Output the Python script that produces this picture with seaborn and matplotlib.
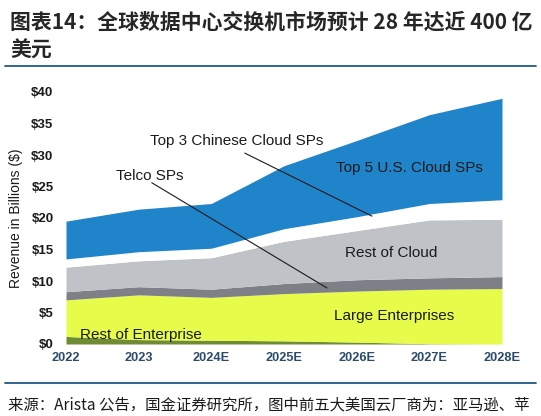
import matplotlib
matplotlib.use("Agg")
import matplotlib.pyplot as plt
import numpy as np
import pandas as pd
import seaborn as sns

sns.set_theme(style="white")
plt.rcParams["font.family"] = ["Liberation Sans", "Noto Sans CJK SC", "DejaVu Sans"]

# values (US$ billions, stacked from the bottom)
years = ["2022", "2023", "2024E", "2025E", "2026E", "2027E", "2028E"]
rest_of_enterprise = [1.2, 0.7, 0.6, 0.5, 0.3, 0.05, 0.0]
large_enterprises = [5.8, 7.1, 6.8, 7.5, 8.1, 8.65, 8.8]
telco_sps = [1.3, 1.3, 1.3, 1.6, 1.8, 1.8, 1.9]
rest_of_cloud = [3.9, 4.1, 5.0, 6.7, 7.8, 9.2, 9.1]
top3_chinese = [1.3, 1.45, 1.5, 2.0, 2.2, 2.6, 3.1]
top5_us = [6.0, 6.75, 7.1, 10.0, 12.1, 14.1, 16.1]
y_ticks = [0, 5, 10, 15, 20, 25, 30, 35, 40]

layers = pd.DataFrame({
    "Rest of Enterprise": rest_of_enterprise,
    "Large Enterprises": large_enterprises,
    "Telco SPs": telco_sps,
    "Rest of Cloud": rest_of_cloud,
    "Top 3 Chinese Cloud SPs": top3_chinese,
    "Top 5 U.S. Cloud SPs": top5_us,
}, index=years)

colors = {
    "Rest of Enterprise": "#6f8c35",
    "Large Enterprises": "#e7fb4b",
    "Telco SPs": "#7e8088",
    "Rest of Cloud": "#bfc2c7",
    "Top 3 Chinese Cloud SPs": "#ffffff",
    "Top 5 U.S. Cloud SPs": "#1f84c9",
}

W, H = 541, 416
fig = plt.figure(figsize=(W / 100, H / 100), dpi=100)
ax = fig.add_axes([66 / W, 1 - 344 / H, 436 / W, 252 / H])

x = np.arange(len(years))
tops = layers.cumsum(axis=1)
bottom = np.zeros(len(years))
for name in layers.columns:
    top = tops[name].to_numpy()
    ax.fill_between(x, bottom, top, color=colors[name], linewidth=0)
    bottom = top

ax.set_xlim(0, len(years) - 1)
ax.set_ylim(0, 40)
ax.set_xticks(x)
ax.set_xticklabels(years, fontsize=9.2, fontweight="bold", color="#2c4a6e")
ax.set_yticks(y_ticks)
ax.set_yticklabels([f"${v}" for v in y_ticks], fontsize=9.5, fontweight="bold", color="#1a1a1a")
ax.tick_params(axis="x", length=0, pad=6)
ax.tick_params(axis="y", length=0, pad=9)
for s in ax.spines.values():
    s.set_visible(False)
ax.set_ylabel("Revenue in Billions ($)", fontsize=10, color="#1a1a1a", labelpad=6)

# labels inside the chart
lab = dict(fontsize=11, color="#1a1a1a", ha="center", va="center")
ax.text(2.35, 32.3, "Top 3 Chinese Cloud SPs", **lab)
ax.text(1.15, 26.6, "Telco SPs", **lab)
ax.text(4.73, 27.9, "Top 5 U.S. Cloud SPs", **lab)
ax.text(4.47, 14.4, "Rest of Cloud", **lab)
ax.text(4.52, 4.45, "Large Enterprises", **lab)
ax.text(1.03, 1.45, "Rest of Enterprise", **lab)
ax.plot([2.46, 4.21], [30.3, 20.3], color="#1a1a1a", linewidth=0.8)
ax.plot([1.18, 3.59], [25.6, 8.9], color="#1a1a1a", linewidth=0.8)

# header / footer
cjk = ["Noto Sans CJK SC", "DejaVu Sans"]
fig.text(10 / W, 1 - 22 / H, "图表14：全球数据中心交换机市场预计 28 年达近 400 亿",
         fontsize=15, fontweight="bold", family=cjk, va="center", ha="left")
fig.text(10 / W, 1 - 50 / H, "美元", fontsize=15, fontweight="bold", family=cjk,
         va="center", ha="left")
fig.add_artist(plt.Line2D([5 / W, 536 / W], [1 - 66 / H, 1 - 66 / H],
                          transform=fig.transFigure, color="#1f5a85", linewidth=1.3))
fig.add_artist(plt.Line2D([5 / W, 536 / W], [1 - 383 / H, 1 - 383 / H],
                          transform=fig.transFigure, color="#1f5a85", linewidth=1.3))
fig.text(8 / W, 1 - 405 / H, "来源：Arista 公告，国金证券研究所，图中前五大美国云厂商为：亚马逊、苹",
         fontsize=11.1, family=cjk, va="center", ha="left", color="#1a1a1a")

fig.savefig("out.png", dpi=100)
